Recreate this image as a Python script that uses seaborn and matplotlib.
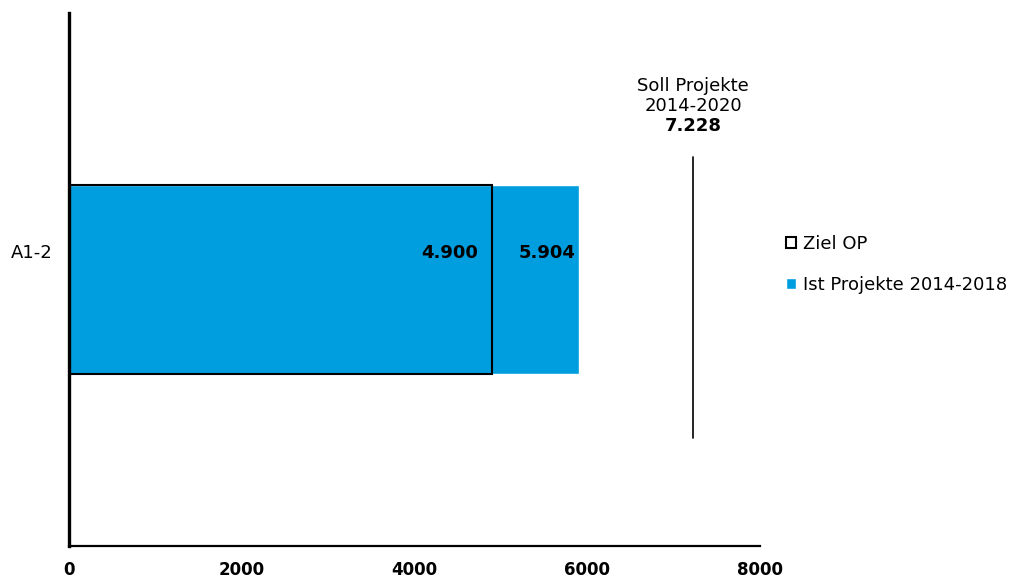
import matplotlib
matplotlib.use("Agg")
import matplotlib.pyplot as plt
from matplotlib.transforms import ScaledTranslation
import seaborn as sns
import pandas as pd

# Data
categories = ["A1-2"]
ist_projekte = [5904]
ziel_op = [4900]
soll_projekte = 7228
x_ticks = [0, 2000, 4000, 6000, 8000]

BLUE = "#009ddf"


def de_fmt(v):
    return f"{v:,.0f}".replace(",", ".")


sns.set_theme(style="white")
plt.rcParams["font.family"] = ["DejaVu Sans"]
plt.rcParams["text.color"] = "black"
plt.rcParams["xtick.color"] = "black"
plt.rcParams["ytick.color"] = "black"

fig = plt.figure(figsize=(10.19, 5.78), dpi=100)
ax = fig.add_axes([69 / 1019, 1 - 546 / 578, (760 - 69) / 1019, (546 - 13) / 578])

df = pd.DataFrame({"cat": categories, "ist": ist_projekte, "ziel": ziel_op})

sns.barplot(data=df, x="ist", y="cat", orient="h", color=BLUE, saturation=1,
            width=0.356, ax=ax, label="Ist Projekte 2014-2018")
sns.barplot(data=df, x="ziel", y="cat", orient="h", color="black", fill=False,
            saturation=1, width=0.356, linewidth=1.5, ax=ax, label="Ziel OP")

handles, labels = ax.get_legend_handles_labels()
if ax.get_legend() is not None:
    ax.get_legend().remove()

# Target line with caption
ax.plot([soll_projekte, soll_projekte], [-0.23, 0.297], color="black", lw=1.2)
ax.text(soll_projekte, -0.363, "Soll Projekte", ha="center", va="center", fontsize=13)
ax.text(soll_projekte, -0.3255, "2014-2020", ha="center", va="center", fontsize=13)
ax.text(soll_projekte, -0.288, de_fmt(soll_projekte), ha="center", va="center",
        fontsize=13, fontweight="bold")

# Value labels inside the bars
shift = ScaledTranslation(0, 0.27, fig.dpi_scale_trans)
for i, (z, s) in enumerate(zip(ziel_op, ist_projekte)):
    ax.text(z - 160, i, de_fmt(z), ha="right", va="center", fontsize=13,
            fontweight="bold", transform=ax.transData + shift)
    ax.text(s - 35, i, de_fmt(s), ha="right", va="center", fontsize=13,
            fontweight="bold", transform=ax.transData + shift)

ax.set_xlim(0, 8000)
ax.set_ylim(0.5, -0.5)
ax.set_xticks(x_ticks)
ax.set_xticklabels([str(t) for t in x_ticks], fontweight="bold", fontsize=12)
ax.tick_params(axis="x", length=0, pad=11)
ax.tick_params(axis="y", length=0, pad=12, labelsize=13)
for lbl in ax.get_yticklabels():
    lbl.set_transform(lbl.get_transform() + ScaledTranslation(0, 0.29, fig.dpi_scale_trans))
ax.set_xlabel("")
ax.set_ylabel("")

for side in ["top", "right"]:
    ax.spines[side].set_visible(False)
ax.spines["left"].set_linewidth(2.4)
ax.spines["bottom"].set_linewidth(1.6)
ax.spines["left"].set_color("black")
ax.spines["bottom"].set_color("black")

order = [labels.index("Ziel OP"), labels.index("Ist Projekte 2014-2018")]
fig.legend([handles[i] for i in order], [labels[i] for i in order],
           loc="upper left", bbox_to_anchor=(786 / 1019, 1 - 235 / 578),
           frameon=False, fontsize=13, handlelength=0.55, handleheight=0.55,
           handletextpad=0.4, labelspacing=1.25, borderaxespad=0, borderpad=0)

fig.savefig("out.png", dpi=100)
